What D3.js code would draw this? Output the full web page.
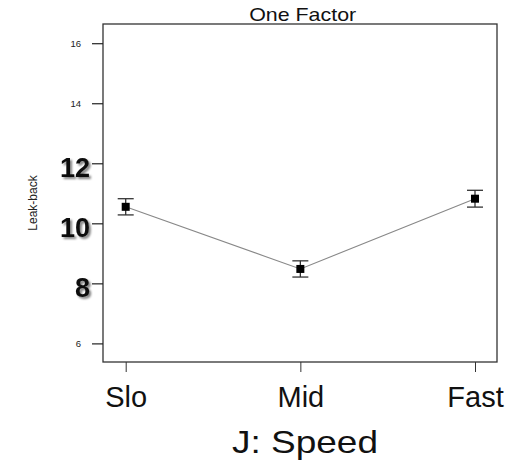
<!DOCTYPE html>
<html>
<head>
<meta charset="utf-8">
<script src="https://cdn.jsdelivr.net/npm/d3@7"></script>
<style>
  html, body { margin: 0; padding: 0; background: #fff; }
  svg { display: block; font-family: Arial, "Liberation Sans", Helvetica, sans-serif; }
</style>
</head>
<body>
<div id="chart"></div>
<script>
  // ---------------------------------------------------------------------------
  // Data
  // ---------------------------------------------------------------------------
  const categories = ['Slo', 'Mid', 'Fast'];
  const means      = [10.55, 8.48, 10.82];
  const errors     = [0.27, 0.27, 0.28];
  const yTicks     = [6, 8, 10, 12, 14, 16];
  const boldTicks  = [8, 10, 12];

  // ---------------------------------------------------------------------------
  // Layout
  // ---------------------------------------------------------------------------
  const W = 523, H = 464;
  const box = { left: 103, top: 24, right: 497, bottom: 362 };

  const svg = d3.select('#chart').append('svg')
    .attr('width', W)
    .attr('height', H);

  // soft drop shadow for the big tick labels
  const defs = svg.append('defs');
  const f = defs.append('filter').attr('id', 'shadow')
    .attr('x', '-30%').attr('y', '-30%').attr('width', '170%').attr('height', '170%');
  f.append('feGaussianBlur').attr('in', 'SourceAlpha').attr('stdDeviation', 1.3).attr('result', 'blur');
  f.append('feOffset').attr('in', 'blur').attr('dx', 2).attr('dy', 2).attr('result', 'off');
  f.append('feComponentTransfer').attr('in', 'off').attr('result', 'soft')
    .append('feFuncA').attr('type', 'linear').attr('slope', 0.5);
  const merge = f.append('feMerge');
  merge.append('feMergeNode').attr('in', 'soft');
  merge.append('feMergeNode').attr('in', 'SourceGraphic');

  // Scales
  const x = d3.scalePoint()
    .domain(categories)
    .range([125.7, 475]);

  const y = d3.scaleLinear()
    .domain([5.38, 16.64])
    .range([box.bottom, box.top]);

  // Frame
  svg.append('rect')
    .attr('x', box.left)
    .attr('y', box.top)
    .attr('width', box.right - box.left)
    .attr('height', box.bottom - box.top)
    .attr('fill', 'none')
    .attr('stroke', '#333')
    .attr('stroke-width', 1.3);

  // Y axis
  const yAxis = svg.append('g')
    .attr('transform', `translate(${box.left},0)`)
    .call(d3.axisLeft(y).tickValues(yTicks).tickSize(11).tickFormat(d3.format('d')));
  yAxis.select('.domain').remove();
  yAxis.selectAll('.tick line').attr('stroke', '#222').attr('stroke-width', 1.2);
  yAxis.selectAll('.tick text')
    .attr('fill', '#222')
    .attr('font-family', 'Arial, "Liberation Sans", sans-serif')
    .attr('dy', null)
    .each(function (d) {
      const t = d3.select(this);
      if (boldTicks.includes(d)) {
        t.attr('font-size', 27).attr('font-weight', 'bold')
          .attr('x', -13).attr('y', 13)
          .attr('fill', '#111')
          .attr('filter', 'url(#shadow)');
      } else {
        t.attr('font-size', 9.5).attr('x', -22).attr('y', 3.5);
      }
    });

  // X axis
  const xAxis = svg.append('g')
    .attr('transform', `translate(0,${box.bottom})`)
    .call(d3.axisBottom(x).tickSize(10).tickSizeOuter(0));
  xAxis.select('.domain').remove();
  xAxis.selectAll('.tick line').attr('stroke', '#333').attr('stroke-width', 1);
  xAxis.selectAll('.tick text')
    .attr('font-family', 'Arial, "Liberation Sans", sans-serif')
    .attr('font-size', 29)
    .attr('fill', '#111')
    .attr('dy', null)
    .attr('y', 45);

  // Titles
  svg.append('text')
    .attr('x', 302.7).attr('y', 20.5)
    .attr('text-anchor', 'middle')
    .attr('font-size', 19)
    .attr('textLength', 107)
    .attr('lengthAdjust', 'spacingAndGlyphs')
    .attr('fill', '#111')
    .text('One Factor');

  svg.append('text')
    .attr('x', 305).attr('y', 453)
    .attr('text-anchor', 'middle')
    .attr('font-size', 32)
    .attr('textLength', 146)
    .attr('lengthAdjust', 'spacingAndGlyphs')
    .attr('fill', '#111')
    .text('J: Speed');

  svg.append('text')
    .attr('transform', 'translate(36.5,203) rotate(-90)')
    .attr('text-anchor', 'middle')
    .attr('font-size', 12)
    .attr('fill', '#222')
    .text('Leak-back');

  // Mean line
  const pts = categories.map((c, i) => ({ c, m: means[i], e: errors[i] }));

  svg.append('path')
    .datum(pts)
    .attr('fill', 'none')
    .attr('stroke', '#888')
    .attr('stroke-width', 1.1)
    .attr('d', d3.line().x(d => x(d.c)).y(d => y(d.m)));

  // Error bars
  const eb = svg.append('g').attr('stroke', '#333').attr('stroke-width', 1.3);
  eb.selectAll('line.v').data(pts).join('line').attr('class', 'v')
    .attr('x1', d => x(d.c)).attr('x2', d => x(d.c))
    .attr('y1', d => y(d.m + d.e)).attr('y2', d => y(d.m - d.e));
  eb.selectAll('line.top').data(pts).join('line').attr('class', 'top')
    .attr('x1', d => x(d.c) - 8).attr('x2', d => x(d.c) + 8)
    .attr('y1', d => y(d.m + d.e)).attr('y2', d => y(d.m + d.e));
  eb.selectAll('line.bot').data(pts).join('line').attr('class', 'bot')
    .attr('x1', d => x(d.c) - 8).attr('x2', d => x(d.c) + 8)
    .attr('y1', d => y(d.m - d.e)).attr('y2', d => y(d.m - d.e));

  // Markers
  svg.append('g').selectAll('rect').data(pts).join('rect')
    .attr('x', d => x(d.c) - 4)
    .attr('y', d => y(d.m) - 4)
    .attr('width', 8)
    .attr('height', 8)
    .attr('fill', '#000');
</script>
</body>
</html>
